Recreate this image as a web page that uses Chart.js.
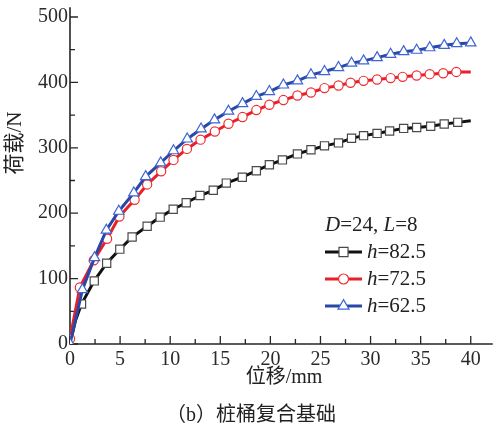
<!DOCTYPE html>
<html>
<head>
<meta charset="utf-8">
<script src="https://cdn.jsdelivr.net/npm/chart.js@4.4.1/dist/chart.umd.min.js"></script>
<style>
  html, body { margin: 0; padding: 0; background: #fff; }
  #wrap { width: 500px; height: 430px; position: relative; }
</style>
</head>
<body>
<div id="wrap"><canvas id="c" width="500" height="430"></canvas></div>
<script>
// Load–displacement curves of the pile-bucket composite foundation
const paramD = 24;
const paramL = 8;
const hValues = ['82.5', '72.5', '62.5'];

const xTicks = [0, 5, 10, 15, 20, 25, 30, 35, 40];
const yTicks = [0, 100, 200, 300, 400, 500];

// h = 82.5
const dispH825 = [0, 0.55, 1.15, 2.42, 3.66, 4.97, 6.2, 7.7, 9.0, 10.3, 11.6, 12.97, 14.3, 15.6, 17.2, 18.6, 19.9, 21.2, 22.7, 24.05, 25.4, 26.8, 28.1, 29.3, 30.65, 31.9, 33.3, 34.6, 36.0, 37.35, 38.7, 40];
const loadH825 = [0, 36, 61, 96.5, 123.5, 145, 163.5, 180, 194, 206, 216, 227, 235, 246, 255, 265, 274, 281.5, 290.7, 297, 303, 307.5, 314.5, 318.6, 322, 325.7, 329.7, 331, 333, 336.4, 338.9, 341.5];

// h = 72.5
const dispH725 = [0, 0.98, 2.38, 3.7, 4.93, 6.45, 7.7, 9.1, 10.33, 11.67, 13.03, 14.46, 15.82, 17.22, 18.6, 19.9, 21.3, 22.7, 24.05, 25.4, 26.8, 28.0, 29.3, 30.65, 32.0, 33.2, 34.6, 35.9, 37.25, 38.56, 40];
const loadH725 = [8, 86.4, 128, 161, 195, 220.6, 244, 264, 281.5, 298.3, 312.5, 325, 336.8, 347, 357.7, 365.9, 373, 380, 384.6, 391.3, 395.3, 399.4, 402.4, 404.4, 406.6, 408.5, 410.5, 412.6, 414, 416, 416];

// h = 62.5
const dispH625 = [0, 1.24, 2.45, 3.63, 4.87, 6.37, 7.55, 9.05, 10.33, 11.7, 13.08, 14.42, 15.82, 17.22, 18.6, 19.9, 21.3, 22.7, 24.05, 25.4, 26.8, 28.1, 29.3, 30.65, 32.0, 33.3, 34.6, 35.9, 37.35, 38.6, 40];
const loadH625 = [0, 83, 132, 174, 203, 231, 256, 277, 295.5, 313.5, 328.8, 342.7, 356, 367.5, 378.5, 386, 396, 402.4, 411.6, 416.6, 422.7, 429.4, 432.9, 437.9, 443, 447, 449.2, 453, 456.7, 459.2, 460.4];

const xTitle = '位移/mm';
const yTitle = '荷载/N';
const caption = '（b）桩桶复合基础';

const SERIF = '"Liberation Serif", "Noto Sans CJK SC", serif';
const AXIS_COLOR = '#262626';

function pts(xs, ys) { return xs.map((x, i) => ({ x: x, y: ys[i] })); }

// marker radius per point; curve ends without a marker are set to 0
function radii(n, r, skipStart, skipEnd) {
  const out = [];
  for (let i = 0; i < n; i++) {
    out.push(i < skipStart || i >= n - skipEnd ? 0 : r);
  }
  return out;
}

const series = [
  { label: 'h=' + hValues[0], data: pts(dispH825, loadH825), borderColor: '#111111',
    pointBorderColor: '#4a4a4a', pointStyle: 'rect',
    pointRadius: radii(dispH825.length, 5.8, 2, 1), order: 3 },
  { label: 'h=' + hValues[1], data: pts(dispH725, loadH725), borderColor: '#e8202a',
    pointBorderColor: '#ef2d33', pointStyle: 'circle',
    pointRadius: radii(dispH725.length, 4.6, 0, 1), order: 2 },
  { label: 'h=' + hValues[2], data: pts(dispH625, loadH625), borderColor: '#2b47a6',
    pointBorderColor: '#3d66d2', pointStyle: 'triangle',
    pointRadius: radii(dispH625.length, 6.0, 0, 0), order: 1 }
];

const datasets = series.map(s => ({
  label: s.label,
  data: s.data,
  borderColor: s.borderColor,
  borderWidth: 3,
  tension: 0,
  pointStyle: s.pointStyle,
  pointRadius: s.pointRadius,
  pointBorderColor: s.pointBorderColor,
  pointBackgroundColor: '#ffffff',
  pointBorderWidth: 1.2,
  order: s.order
}));

// Axis lines with inward major/minor ticks
const axesPlugin = {
  id: 'axes',
  beforeDatasetsDraw(chart) {
    const { ctx, chartArea: a, scales: { x, y } } = chart;
    ctx.save();
    ctx.strokeStyle = AXIS_COLOR;
    ctx.lineWidth = 1.6;
    ctx.beginPath();
    ctx.moveTo(a.left, a.top);
    ctx.lineTo(a.left, a.bottom);
    ctx.lineTo(a.right, a.bottom);
    ctx.stroke();
    ctx.lineWidth = 1.3;
    ctx.beginPath();
    for (let v = 0; v <= 40; v += 2.5) {
      const px = x.getPixelForValue(v);
      const len = (v % 5 === 0) ? 8 : 5;
      ctx.moveTo(px, a.bottom);
      ctx.lineTo(px, a.bottom - len);
    }
    for (let v = 0; v <= 500; v += 50) {
      const py = y.getPixelForValue(v);
      const len = (v % 100 === 0) ? 8 : 5;
      ctx.moveTo(a.left, py);
      ctx.lineTo(a.left + len, py);
    }
    ctx.stroke();
    ctx.restore();
  }
};

// draws a run of text pieces, each piece optionally italic
function drawRuns(ctx, runs, x, y, size) {
  let cx = x;
  for (const r of runs) {
    ctx.font = (r.italic ? 'italic ' : '') + size + 'px ' + SERIF;
    ctx.fillText(r.t, cx, y);
    cx += ctx.measureText(r.t).width;
  }
}

// Axis titles, caption and the in-plot legend
const textPlugin = {
  id: 'texts',
  afterDraw(chart) {
    const { ctx } = chart;
    ctx.save();
    ctx.fillStyle = '#222';
    ctx.textBaseline = 'middle';

    ctx.textAlign = 'center';
    ctx.font = '20px ' + SERIF;
    ctx.fillText(xTitle, 284, 378);
    ctx.fillText(caption, 251, 416);

    ctx.save();
    ctx.translate(15.5, 143);
    ctx.rotate(-Math.PI / 2);
    ctx.font = '21px ' + SERIF;
    ctx.fillText(yTitle, 0, 0);
    ctx.restore();

    // legend
    ctx.textAlign = 'left';
    const size = 21;
    drawRuns(ctx, [
      { t: 'D', italic: true }, { t: '=' + paramD + ', ' },
      { t: 'L', italic: true }, { t: '=' + paramL }
    ], 325, 225, size);

    const rows = [252, 279, 306];
    chart.data.datasets.forEach((ds, i) => {
      const yy = rows[i];
      ctx.strokeStyle = ds.borderColor;
      ctx.lineWidth = 3;
      ctx.beginPath();
      ctx.moveTo(325, yy);
      ctx.lineTo(362, yy);
      ctx.stroke();
      ctx.fillStyle = '#ffffff';
      ctx.strokeStyle = ds.pointBorderColor;
      ctx.lineWidth = 1.2;
      Chart.helpers.drawPoint(ctx, {
        pointStyle: ds.pointStyle,
        radius: ds.pointStyle === 'circle' ? 5 : 6.4,
        rotation: 0,
        borderWidth: 1.2
      }, 343.5, yy);
      ctx.fillStyle = '#222';
      drawRuns(ctx, [{ t: 'h', italic: true }, { t: '=' + hValues[i] }], 367, yy, size);
    });
    ctx.restore();
  }
};

Chart.defaults.font.family = SERIF;

new Chart(document.getElementById('c'), {
  type: 'line',
  data: { datasets: datasets },
  options: {
    responsive: false,
    animation: false,
    devicePixelRatio: 1,
    layout: { padding: { top: 6, left: 0, right: 0, bottom: 0 } },
    plugins: { legend: { display: false }, tooltip: { enabled: false } },
    scales: {
      x: {
        type: 'linear',
        min: 0,
        max: 42.2,
        afterFit(s) { s.height = 86; s.paddingLeft = 0; s.paddingRight = 0; },
        afterBuildTicks(s) { s.ticks = xTicks.map(v => ({ value: v })); },
        grid: { display: false, drawTicks: false },
        border: { display: false },
        ticks: {
          padding: 4,
          color: '#2a2a2a',
          font: { size: 20, family: SERIF },
          maxRotation: 0,
          autoSkip: false
        }
      },
      y: {
        type: 'linear',
        min: 0,
        max: 515,
        afterFit(s) { s.width = 70; s.paddingTop = 0; s.paddingBottom = 0; },
        afterBuildTicks(s) { s.ticks = yTicks.map(v => ({ value: v })); },
        grid: { display: false, drawTicks: false },
        border: { display: false },
        ticks: {
          padding: 2,
          color: '#2a2a2a',
          font: { size: 20, family: SERIF },
          autoSkip: false
        }
      }
    }
  },
  plugins: [axesPlugin, textPlugin]
});
</script>
</body>
</html>
